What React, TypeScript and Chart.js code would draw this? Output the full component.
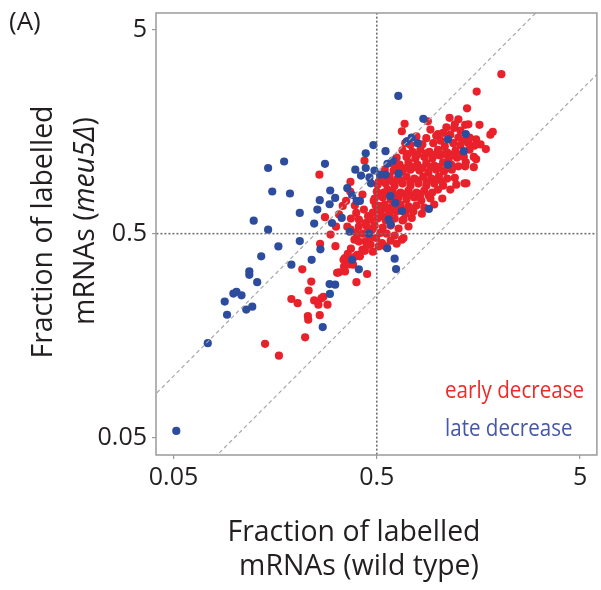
import { useEffect, useRef } from 'react';
import { Chart, registerables } from 'chart.js';
Chart.register(...registerables);

const tickValues = [0.05, 0.5, 5];
const tickLabels = ['0.05', '0.5', '5'];
const axisMin = 0.041;
const axisMax = 6.05;

const lateDecrease: [number, number][] = [
  [0.0516, 0.0538], [0.0737, 0.145], [0.0893, 0.232], [0.0917, 0.2], [0.0985, 0.254], [0.102, 0.259],
  [0.108, 0.249], [0.114, 0.212], [0.122, 0.219], [0.118, 0.327], [0.118, 0.314], [0.129, 0.289],
  [0.135, 0.387], [0.164, 0.433], [0.146, 0.523], [0.124, 0.579], [0.146, 1.05], [0.175, 1.13],
  [0.153, 0.805], [0.187, 0.787], [0.209, 0.632], [0.19, 0.352], [0.209, 0.46], [0.239, 0.372],
  [0.264, 0.419], [0.278, 1.1], [0.295, 0.814], [0.262, 0.73], [0.293, 0.697], [0.312, 0.749],
  [0.255, 0.656], [0.246, 0.56], [0.301, 0.564], [0.336, 0.597], [0.293, 0.283], [0.312, 0.281],
  [0.294, 0.253], [0.271, 0.174], [0.358, 0.836], [0.392, 1.03], [0.398, 0.724], [0.378, 0.773],
  [0.413, 0.724], [0.418, 0.964], [0.441, 1.05], [0.441, 1.24], [0.481, 1.36], [0.46, 0.944],
  [0.468, 0.883], [0.564, 1.1], [0.552, 0.974], [0.487, 1.02], [0.368, 0.511], [0.457, 0.5],
  [0.378, 0.372], [0.408, 0.334], [0.563, 0.424], [0.612, 0.377], [0.622, 0.335], [0.638, 2.37],
  [0.847, 1.83], [0.742, 1.48], [0.794, 1.39], [0.703, 1.42], [1.12, 1.45], [1.37, 1.54],
  [1.34, 1.27], [1.12, 1.09], [0.902, 0.661], [0.552, 1.27], [0.599, 1.14], [0.518, 0.974],
  [0.64, 0.985], [0.583, 0.764], [0.617, 0.706], [0.665, 0.645], [0.572, 0.586], [0.586, 0.554],
];

const earlyDecrease: [number, number][] = [
  [0.141, 0.144], [0.165, 0.126], [0.19, 0.239], [0.204, 0.228], [0.222, 0.155], [0.229, 0.197],
  [0.23, 0.189], [0.262, 0.199], [0.231, 0.263], [0.238, 0.291], [0.215, 0.334], [0.246, 0.235],
  [0.258, 0.224], [0.267, 0.241], [0.273, 0.245], [0.286, 0.224], [0.261, 0.974], [0.278, 0.602],
  [0.263, 0.446], [0.296, 0.495], [0.313, 0.434], [0.388, 0.467], [0.401, 0.495], [0.348, 0.379],
  [0.36, 0.398], [0.343, 0.372], [0.355, 0.357], [0.365, 0.353], [0.345, 0.345], [0.382, 0.352],
  [0.319, 0.321], [0.349, 0.326], [0.326, 0.323], [0.448, 0.317], [0.397, 0.289], [0.425, 0.417],
  [0.401, 0.394], [0.413, 0.387], [0.44, 0.458], [0.466, 0.442], [0.496, 0.476], [0.53, 0.45],
  [0.511, 0.433], [0.552, 0.433], [0.664, 0.467], [0.677, 0.476], [0.521, 0.504], [0.371, 0.897],
  [0.435, 1.14], [0.511, 0.897], [0.37, 0.805], [0.353, 0.724], [0.34, 0.684], [0.425, 0.778],
  [0.432, 0.656], [0.408, 0.586], [0.44, 0.564], [0.483, 0.724], [0.511, 0.684], [0.53, 0.609],
  [0.358, 0.541], [0.372, 0.523], [0.474, 0.523], [0.564, 0.823], [0.564, 0.609], [0.453, 0.609],
  [0.396, 0.632], [0.315, 0.541],
  [2.05, 3.03], [1.55, 2.49], [1.39, 2.06], [1.14, 1.85], [1.26, 1.82], [0.685, 1.73], [0.892, 1.78],
  [1.21, 1.72], [1.2, 1.65], [1.36, 1.71], [1.6, 1.71], [1.81, 1.53], [1.86, 1.58], [1.54, 1.45],
  [1.62, 1.37], [1.72, 1.3], [1.5, 1.19], [1.5, 1.06], [1.37, 1.12], [1.36, 1.07], [1.38, 0.883],
  [1.05, 0.744], [0.664, 1.59], [0.708, 1.42], [0.69, 1.39], [1.0, 1.54], [1.06, 1.56], [1.43, 1.48],
  [1.51, 1.35], [1.54, 1.16], [1.41, 1.72], [1.43, 1.29], [1.35, 0.883], [1.21, 0.939], [1.23, 0.87],
  [0.833, 0.626], [0.743, 0.597], [0.677, 0.586], [0.66, 1.03],
  [0.918, 1.62], [1.1, 1.66], [1.29, 1.6], [0.98, 1.51],
  [0.783, 1.5], [0.876, 1.47], [1.15, 1.53], [1.26, 1.48], [1.35, 1.43], [1.03, 1.43],
  [0.732, 1.36], [0.838, 1.37], [0.948, 1.39], [1.08, 1.34], [1.19, 1.39], [1.29, 1.36], [1.41, 1.39],
  [0.669, 1.28], [0.749, 1.26], [0.819, 1.29], [0.907, 1.26], [1.0, 1.29], [1.11, 1.25], [1.22, 1.28], [1.3, 1.22],
  [0.626, 1.18], [0.7, 1.19], [0.774, 1.17], [0.856, 1.19], [0.938, 1.17], [1.02, 1.21], [1.13, 1.17], [1.24, 1.18], [1.34, 1.19],
  [0.585, 1.11], [0.647, 1.09], [0.716, 1.12], [0.792, 1.09], [0.876, 1.11], [0.958, 1.08], [1.06, 1.12], [1.16, 1.09], [1.26, 1.07],
  [0.547, 1.03], [0.605, 1.02], [0.669, 1.01], [0.732, 1.03], [0.81, 1.02], [0.897, 0.996], [0.98, 1.03], [1.07, 1.01], [1.17, 1.03],
  [0.528, 0.942], [0.578, 0.953], [0.633, 0.932], [0.7, 0.953], [0.765, 0.932], [0.847, 0.953], [0.928, 0.932], [1.01, 0.953], [1.11, 0.932],
  [0.505, 0.87], [0.553, 0.88], [0.612, 0.86], [0.669, 0.88], [0.732, 0.86], [0.801, 0.88], [0.876, 0.86], [0.958, 0.88], [1.06, 0.86], [1.15, 0.823],
  [0.5, 0.805], [0.541, 0.796], [0.598, 0.814], [0.655, 0.796], [0.716, 0.814], [0.783, 0.796], [0.856, 0.814], [0.938, 0.796], [1.0, 0.823],
  [0.488, 0.744], [0.535, 0.753], [0.585, 0.735], [0.64, 0.753], [0.7, 0.735], [0.765, 0.753], [0.828, 0.727], [0.918, 0.744],
  [0.494, 0.687], [0.547, 0.695], [0.598, 0.68], [0.655, 0.695], [0.716, 0.68], [0.783, 0.687], [0.856, 0.672],
  [0.478, 0.635], [0.523, 0.642], [0.578, 0.628], [0.626, 0.642], [0.693, 0.628], [0.757, 0.642],
  [0.468, 0.586], [0.505, 0.593], [0.553, 0.58], [0.612, 0.593], [0.669, 0.58],
  [0.408, 0.542], [0.447, 0.542], [0.488, 0.548], [0.535, 0.536], [0.585, 0.548], [0.64, 0.53], [0.716, 0.542],
  [0.395, 0.506], [0.427, 0.5], [0.462, 0.478], [0.559, 0.5], [0.612, 0.489],
  [0.408, 0.457], [0.447, 0.437], [0.585, 0.462], [0.626, 0.446],
  [0.373, 0.422], [0.437, 0.412], [0.478, 0.408], [0.39, 0.385],
  [0.39, 0.687], [0.326, 0.621], [0.373, 0.593], [0.958, 0.695],
  [0.71, 1.23], [0.79, 1.22], [0.88, 1.24], [0.97, 1.22], [1.07, 1.23], [1.18, 1.22],
  [0.62, 1.06], [0.69, 1.05], [0.76, 1.06], [0.84, 1.05], [0.92, 1.06], [1.01, 1.06], [1.11, 1.05],
  [0.55, 0.91], [0.6, 0.9], [0.66, 0.91], [0.73, 0.9], [0.8, 0.91], [0.88, 0.9], [0.97, 0.91], [1.05, 0.9],
  [0.52, 0.77], [0.57, 0.78], [0.62, 0.77], [0.69, 0.78], [0.75, 0.77], [0.82, 0.78], [0.9, 0.77],
  [0.51, 0.66], [0.56, 0.665], [0.62, 0.66], [0.68, 0.655], [0.74, 0.66],
];

// reference lines: y = 2x, y = x/2, x = 0.5, y = 0.5
const upperFoldLine: [number, number][] = [[0.02, 0.04], [5, 10]];
const lowerFoldLine: [number, number][] = [[0.06, 0.03], [12, 6]];
const verticalMidLine: [number, number][] = [[0.5, 0.03], [0.5, 10]];
const horizontalMidLine: [number, number][] = [[0.03, 0.5], [10, 0.5]];

const TEXT = '#231f20';
const FONT = '"Open Sans", "Noto Sans", sans-serif';

const toPts = (a: [number, number][]) => a.map(([x, y]) => ({ x, y }));

const decorPlugin = {
  id: 'decor',
  afterDraw(chart: any) {
    const { ctx, chartArea: ca } = chart;
    ctx.save();
    ctx.strokeStyle = '#9a9a9a';
    ctx.lineWidth = 1.5;
    ctx.strokeRect(ca.left, ca.top, ca.right - ca.left, ca.bottom - ca.top);

    ctx.fillStyle = TEXT;
    ctx.textBaseline = 'alphabetic';
    ctx.font = `26px ${FONT}`;
    ctx.textAlign = 'left';
    ctx.fillText('(A)', 9, 30);

    // x title
    ctx.font = `30px ${FONT}`;
    const l1 = 'Fraction of labelled';
    const sx = 253 / ctx.measureText(l1).width;
    ctx.save();
    ctx.translate(354, 541);
    ctx.scale(sx, 1);
    ctx.textAlign = 'center';
    ctx.fillText(l1, 0, 0);
    ctx.restore();
    ctx.save();
    ctx.translate(359, 575);
    ctx.scale(sx, 1);
    ctx.textAlign = 'center';
    ctx.fillText('mRNAs (wild type)', 0, 0);
    ctx.restore();

    // y title
    ctx.save();
    ctx.translate(52, 232);
    ctx.rotate(-Math.PI / 2);
    ctx.scale(sx, 1);
    ctx.textAlign = 'center';
    ctx.fillText(l1, 0, 0);
    ctx.restore();

    ctx.save();
    ctx.translate(94, 221);
    ctx.rotate(-Math.PI / 2);
    ctx.scale(sx, 1);
    ctx.textAlign = 'left';
    const p1 = 'mRNAs (';
    const p2 = 'meu5Δ';
    const p3 = ')';
    ctx.font = `30px ${FONT}`;
    const w1 = ctx.measureText(p1).width;
    const w3 = ctx.measureText(p3).width;
    ctx.font = `italic 30px ${FONT}`;
    const w2 = ctx.measureText(p2).width;
    let x0 = -(w1 + w2 + w3) / 2;
    ctx.font = `30px ${FONT}`;
    ctx.fillText(p1, x0, 0);
    x0 += w1;
    ctx.font = `italic 30px ${FONT}`;
    ctx.fillText(p2, x0, 0);
    x0 += w2;
    ctx.font = `30px ${FONT}`;
    ctx.fillText(p3, x0, 0);
    ctx.restore();

    // legend text
    ctx.font = `24px ${FONT}`;
    const e = 'early decrease';
    const lx = 139 / ctx.measureText(e).width;
    ctx.save();
    ctx.translate(445, 398);
    ctx.scale(lx, 1);
    ctx.textAlign = 'left';
    ctx.fillStyle = '#ee2a27';
    ctx.fillText(e, 0, 0);
    ctx.restore();
    ctx.save();
    ctx.translate(445, 436);
    ctx.scale(lx, 1);
    ctx.textAlign = 'left';
    ctx.fillStyle = '#4757a8';
    ctx.fillText('late decrease', 0, 0);
    ctx.restore();

    ctx.restore();
  },
};

export default function App() {
  const ref = useRef<HTMLCanvasElement | null>(null);
  useEffect(() => {
    if (!ref.current) return;
    const lineBase = { type: 'line' as const, showLine: true, pointRadius: 0, fill: false, tension: 0 };
    const chart = new Chart(ref.current, {
      type: 'scatter',
      data: {
        datasets: [
          { ...lineBase, label: 'x=0.5', data: toPts(verticalMidLine), borderColor: '#6f6f6f', borderWidth: 1.6, borderDash: [2, 2], order: 0 },
          { ...lineBase, label: 'y=0.5', data: toPts(horizontalMidLine), borderColor: '#6f6f6f', borderWidth: 1.6, borderDash: [2, 2], order: 0 },
          { ...lineBase, label: 'y=2x', data: toPts(upperFoldLine), borderColor: '#a8a8a8', borderWidth: 1.2, borderDash: [4, 3], order: 0 },
          { ...lineBase, label: 'y=x/2', data: toPts(lowerFoldLine), borderColor: '#a8a8a8', borderWidth: 1.2, borderDash: [4, 3], order: 0 },
          { label: 'late decrease', data: toPts(lateDecrease), backgroundColor: '#2d4c9e', borderWidth: 0, pointRadius: 4.1, order: 1 },
          { label: 'early decrease', data: toPts(earlyDecrease), backgroundColor: '#e8212b', borderWidth: 0, pointRadius: 4.1, order: 2 },
        ] as any,
      },
      options: {
        animation: false,
        responsive: false,
        layout: { padding: { top: 13, right: 2, left: 0, bottom: 0 } },
        plugins: { legend: { display: false }, tooltip: { enabled: false }, title: { display: false } },
        scales: {
          x: {
            type: 'logarithmic',
            min: axisMin,
            max: axisMax,
            afterBuildTicks: (s: any) => { s.ticks = tickValues.map((v) => ({ value: v })); },
            afterFit: (s: any) => { s.height = 135; s.paddingLeft = 0; s.paddingRight = 0; },
            ticks: {
              autoSkip: false,
              maxRotation: 0,
              padding: 4,
              color: TEXT,
              font: { family: FONT, size: 25 },
              callback: (v: any) => tickLabels[tickValues.indexOf(Number(v))] ?? '',
            },
            grid: { display: true, drawOnChartArea: false, drawTicks: true, tickLength: 4, color: '#9a9a9a', lineWidth: 1.2 },
            border: { display: false },
          },
          y: {
            type: 'logarithmic',
            min: axisMin,
            max: axisMax,
            afterBuildTicks: (s: any) => { s.ticks = tickValues.map((v) => ({ value: v })); },
            afterFit: (s: any) => { s.width = 156; s.paddingTop = 0; s.paddingBottom = 0; },
            ticks: {
              autoSkip: false,
              padding: 5,
              color: TEXT,
              font: { family: FONT, size: 25 },
              callback: (v: any) => tickLabels[tickValues.indexOf(Number(v))] ?? '',
            },
            grid: { display: true, drawOnChartArea: false, drawTicks: true, tickLength: 4, color: '#9a9a9a', lineWidth: 1.2 },
            border: { display: false },
          },
        },
      } as any,
      plugins: [decorPlugin],
    });
    return () => chart.destroy();
  }, []);
  return (
    <div style={{ position: 'absolute', left: 0, top: 0, width: 601, height: 590, background: '#fff' }}>
      <canvas ref={ref} width={601} height={590} style={{ display: 'block' }} />
    </div>
  );
}
